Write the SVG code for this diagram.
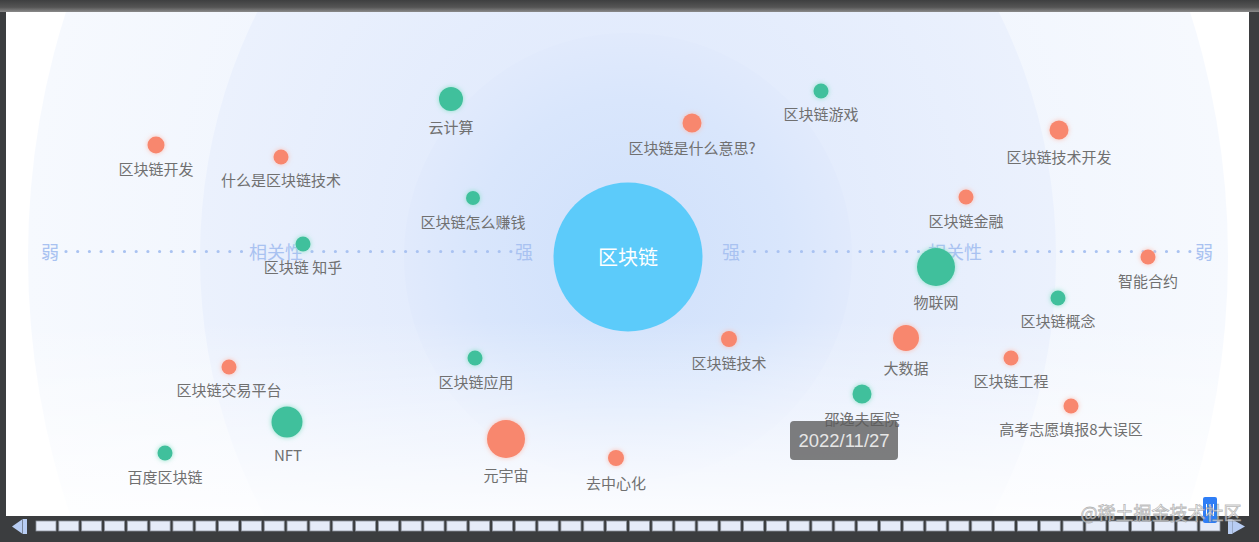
<svg xmlns="http://www.w3.org/2000/svg" width="1259" height="542" viewBox="0 0 1259 542">
<style>
.lbl{font-family:"Noto Sans CJK SC","Noto Sans",sans-serif;font-size:15px;fill:#707070;text-anchor:middle;dominant-baseline:central}
.ax{font-family:"Noto Sans CJK SC","Noto Sans",sans-serif;font-size:18px;fill:#a9c2f1;text-anchor:middle;dominant-baseline:central}
.g{fill:#40c09c;filter:url(#gg)}
.o{fill:#f8876e;filter:url(#go)}
.dots{stroke:#a9c2f1;stroke-width:3.2;stroke-linecap:round;stroke-dasharray:0 11.7;fill:none}
.blk{fill:#e5ebf8;stroke:#8c929c;stroke-width:0.8}
</style>
<defs>
<linearGradient id="topband" x1="0" y1="0" x2="0" y2="1">
<stop offset="0" stop-color="#3e3f40"/><stop offset="0.6" stop-color="#555"/><stop offset="1" stop-color="#8a8a8a"/>
</linearGradient>
<radialGradient id="gOuter" cx="0.5" cy="0.5" r="0.5">
<stop offset="0" stop-color="#e9f0fd"/><stop offset="1" stop-color="#f6f9fe"/>
</radialGradient>
<radialGradient id="gMid" cx="0.5" cy="0.5" r="0.5">
<stop offset="0" stop-color="#dce7fc"/><stop offset="1" stop-color="#ebf1fd"/>
</radialGradient>
<radialGradient id="gIn" cx="0.5" cy="0.5" r="0.5">
<stop offset="0" stop-color="#cfe0fb"/><stop offset="0.7" stop-color="#d9e6fc"/><stop offset="1" stop-color="#e1eafc"/>
</radialGradient>
<linearGradient id="fade" x1="0" y1="0" x2="0" y2="1">
<stop offset="0" stop-color="#fff" stop-opacity="0"/><stop offset="1" stop-color="#fff" stop-opacity="0.85"/>
</linearGradient>
<filter id="gg" x="-1" y="-1" width="3" height="3">
<feDropShadow dx="0" dy="0" stdDeviation="2.4" flood-color="#86e0c6" flood-opacity="0.95"/>
</filter>
<filter id="go" x="-1" y="-1" width="3" height="3">
<feDropShadow dx="0" dy="0" stdDeviation="2.4" flood-color="#fcbcae" flood-opacity="0.95"/>
</filter>
</defs>

<!-- frame -->
<rect x="0" y="0" width="1259" height="542" fill="#3b3d3f"/>
<rect x="0" y="0" width="1259" height="12" fill="url(#topband)"/>
<rect x="6" y="12" width="1243" height="504" fill="#ffffff"/>

<!-- background rings -->
<g id="background">
<svg x="6" y="12" width="1243" height="504" viewBox="6 12 1243 504" overflow="hidden">
<ellipse cx="628" cy="257" rx="600" ry="700" fill="url(#gOuter)"/>
<ellipse cx="628" cy="257" rx="428" ry="490" fill="url(#gMid)"/>
<circle cx="628" cy="257" r="224" fill="url(#gIn)"/>
<rect x="6" y="320" width="1243" height="196" fill="url(#fade)"/>
</svg>
</g>

<!-- axis -->
<g id="axis">
<line class="dots" x1="66" y1="251.5" x2="243" y2="251.5"/>
<line class="dots" x1="312" y1="251.5" x2="511" y2="251.5"/>
<line class="dots" x1="743" y1="251.5" x2="923" y2="251.5"/>
<line class="dots" x1="991" y1="251.5" x2="1192" y2="251.5"/>
<text class="ax" x="50" y="251">弱</text>
<text class="ax" x="276" y="251">相关性</text>
<text class="ax" x="524" y="251">强</text>
<text class="ax" x="731" y="251">强</text>
<text class="ax" x="955" y="251">相关性</text>
<text class="ax" x="1204" y="251">弱</text>
</g>

<g id="connectors"></g>

<g id="center">
<circle cx="628" cy="257" r="74.5" fill="#5ccbfa"/>
<text x="628" y="256" font-family="'Noto Sans CJK SC','Noto Sans',sans-serif" font-size="20" fill="#ffffff" text-anchor="middle" dominant-baseline="central">区块链</text>
</g>

<g id="n1"><circle class="o" cx="156" cy="145" r="8.5"/><text class="lbl" x="156" y="168.5">区块链开发</text></g>
<g id="n2"><circle class="o" cx="281" cy="157" r="7.5"/><text class="lbl" x="281" y="179.5">什么是区块链技术</text></g>
<g id="n3"><circle class="g" cx="451" cy="99" r="12"/><text class="lbl" x="451" y="126.5">云计算</text></g>
<g id="n4"><circle class="g" cx="473" cy="198" r="7"/><text class="lbl" x="473" y="221.5">区块链怎么赚钱</text></g>
<g id="n5"><circle class="g" cx="303" cy="244" r="7.5"/><text class="lbl" x="303" y="266.5">区块链 知乎</text></g>
<g id="n6"><circle class="o" cx="692" cy="123" r="9.5"/><text class="lbl" x="692" y="147.5">区块链是什么意思?</text></g>
<g id="n7"><circle class="g" cx="821" cy="91" r="7.5"/><text class="lbl" x="821" y="113.5">区块链游戏</text></g>
<g id="n8"><circle class="o" cx="1059" cy="130" r="9.5"/><text class="lbl" x="1059" y="156.5">区块链技术开发</text></g>
<g id="n9"><circle class="o" cx="966" cy="197" r="7.5"/><text class="lbl" x="966" y="220.5">区块链金融</text></g>
<g id="n10"><circle class="g" cx="936" cy="267" r="19"/><text class="lbl" x="936" y="301.5">物联网</text></g>
<g id="n11"><circle class="o" cx="1148" cy="257" r="7.5"/><text class="lbl" x="1148" y="280.5">智能合约</text></g>
<g id="n12"><circle class="g" cx="1058" cy="298" r="7.5"/><text class="lbl" x="1058" y="320.5">区块链概念</text></g>
<g id="n13"><circle class="o" cx="906" cy="338" r="13"/><text class="lbl" x="906" y="367.5">大数据</text></g>
<g id="n14"><circle class="o" cx="1011" cy="358" r="7.5"/><text class="lbl" x="1011" y="380.5">区块链工程</text></g>
<g id="n15"><circle class="o" cx="1071" cy="406" r="7.5"/><text class="lbl" x="1071" y="428.5">高考志愿填报8大误区</text></g>
<g id="n16"><circle class="o" cx="729" cy="339" r="8"/><text class="lbl" x="729" y="362.5">区块链技术</text></g>
<g id="n17"><circle class="g" cx="862" cy="394" r="9.5"/><text class="lbl" x="862" y="418.5">邵逸夫医院</text></g>
<g id="n18"><circle class="g" cx="475" cy="358" r="7.5"/><text class="lbl" x="476" y="381.5">区块链应用</text></g>
<g id="n19"><circle class="o" cx="229" cy="367" r="7.5"/><text class="lbl" x="229" y="389.5">区块链交易平台</text></g>
<g id="n20"><circle class="g" cx="287" cy="422" r="15.5"/><text class="lbl" x="288" y="454.5">NFT</text></g>
<g id="n21"><circle class="g" cx="165" cy="453" r="7.5"/><text class="lbl" x="165" y="476.5">百度区块链</text></g>
<g id="n22"><circle class="o" cx="506" cy="439" r="19"/><text class="lbl" x="506" y="474.5">元宇宙</text></g>
<g id="n23"><circle class="o" cx="616" cy="458" r="8"/><text class="lbl" x="616" y="482.5">去中心化</text></g>

<!-- tooltip -->
<g id="tooltip">
<rect x="790" y="421" width="108" height="39" rx="4" fill="#5a5a5a" fill-opacity="0.78"/>
<text x="844" y="447" font-family="'Liberation Sans',Arial,sans-serif" font-size="18.5" fill="#e6e6e6" text-anchor="middle">2022/11/27</text>
</g>

<!-- slider -->
<g id="slider">
<polygon points="12,526.5 22,519.5 22,533.5" fill="#b8cdf3"/>
<rect x="22.5" y="519" width="4.5" height="15" fill="#b8cdf3"/>
<rect class="blk" x="36" y="521" width="20" height="10"/><rect class="blk" x="58.82" y="521" width="20" height="10"/><rect class="blk" x="81.65" y="521" width="20" height="10"/><rect class="blk" x="104.47" y="521" width="20" height="10"/><rect class="blk" x="127.29" y="521" width="20" height="10"/><rect class="blk" x="150.12" y="521" width="20" height="10"/><rect class="blk" x="172.94" y="521" width="20" height="10"/><rect class="blk" x="195.76" y="521" width="20" height="10"/><rect class="blk" x="218.59" y="521" width="20" height="10"/><rect class="blk" x="241.41" y="521" width="20" height="10"/><rect class="blk" x="264.24" y="521" width="20" height="10"/><rect class="blk" x="287.06" y="521" width="20" height="10"/><rect class="blk" x="309.88" y="521" width="20" height="10"/><rect class="blk" x="332.71" y="521" width="20" height="10"/><rect class="blk" x="355.53" y="521" width="20" height="10"/><rect class="blk" x="378.35" y="521" width="20" height="10"/><rect class="blk" x="401.18" y="521" width="20" height="10"/><rect class="blk" x="424" y="521" width="20" height="10"/><rect class="blk" x="446.82" y="521" width="20" height="10"/><rect class="blk" x="469.65" y="521" width="20" height="10"/><rect class="blk" x="492.47" y="521" width="20" height="10"/><rect class="blk" x="515.29" y="521" width="20" height="10"/><rect class="blk" x="538.12" y="521" width="20" height="10"/><rect class="blk" x="560.94" y="521" width="20" height="10"/><rect class="blk" x="583.76" y="521" width="20" height="10"/><rect class="blk" x="606.59" y="521" width="20" height="10"/><rect class="blk" x="629.41" y="521" width="20" height="10"/><rect class="blk" x="652.24" y="521" width="20" height="10"/><rect class="blk" x="675.06" y="521" width="20" height="10"/><rect class="blk" x="697.88" y="521" width="20" height="10"/><rect class="blk" x="720.71" y="521" width="20" height="10"/><rect class="blk" x="743.53" y="521" width="20" height="10"/><rect class="blk" x="766.35" y="521" width="20" height="10"/><rect class="blk" x="789.18" y="521" width="20" height="10"/><rect class="blk" x="812" y="521" width="20" height="10"/><rect class="blk" x="834.82" y="521" width="20" height="10"/><rect class="blk" x="857.65" y="521" width="20" height="10"/><rect class="blk" x="880.47" y="521" width="20" height="10"/><rect class="blk" x="903.29" y="521" width="20" height="10"/><rect class="blk" x="926.12" y="521" width="20" height="10"/><rect class="blk" x="948.94" y="521" width="20" height="10"/><rect class="blk" x="971.76" y="521" width="20" height="10"/><rect class="blk" x="994.59" y="521" width="20" height="10"/><rect class="blk" x="1017.41" y="521" width="20" height="10"/><rect class="blk" x="1040.24" y="521" width="20" height="10"/><rect class="blk" x="1063.06" y="521" width="20" height="10"/><rect class="blk" x="1085.88" y="521" width="20" height="10"/><rect class="blk" x="1108.71" y="521" width="20" height="10"/><rect class="blk" x="1131.53" y="521" width="20" height="10"/><rect class="blk" x="1154.35" y="521" width="20" height="10"/><rect class="blk" x="1177.18" y="521" width="20" height="10"/><rect class="blk" x="1200" y="521" width="20" height="10"/>
<rect x="1228" y="519" width="4.5" height="15" fill="#b8cdf3"/>
<polygon points="1232.5,519.5 1245,526.5 1232.5,533.5" fill="#b8cdf3"/>
<rect x="1203" y="497" width="14" height="26" rx="2" fill="#2f7ef6"/>
<line x1="1206.5" y1="504" x2="1206.5" y2="516" stroke="#ffffff" stroke-width="1"/>
<line x1="1210" y1="504" x2="1210" y2="516" stroke="#ffffff" stroke-width="1"/>
<line x1="1213.5" y1="504" x2="1213.5" y2="516" stroke="#ffffff" stroke-width="1"/>
</g>

<!-- watermark -->
<text x="1161" y="520" font-family="'Noto Sans CJK SC','Noto Sans',sans-serif" font-size="18" fill="#ffffff" fill-opacity="0.65" stroke="#8a8a8a" stroke-opacity="0.6" stroke-width="0.8" text-anchor="middle">@稀土掘金技术社区</text>
</svg>
